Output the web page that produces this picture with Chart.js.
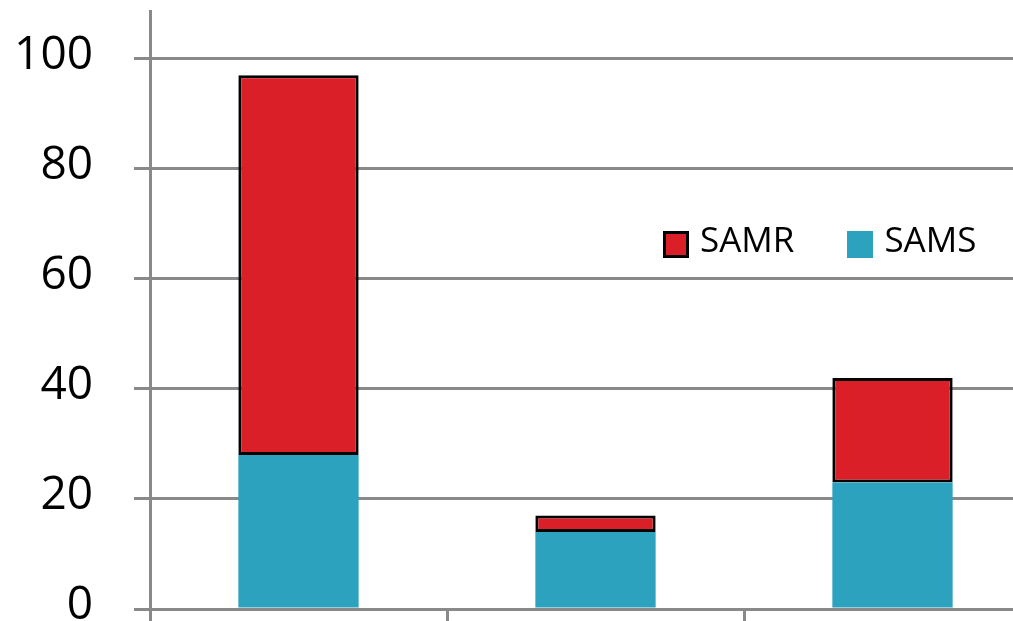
<!DOCTYPE html>
<html>
<head>
<meta charset="utf-8">
<script src="https://cdn.jsdelivr.net/npm/chart.js@4.4.1/dist/chart.umd.min.js"></script>
<style>
  html, body { margin: 0; padding: 0; background: #fff; overflow: hidden; }
  #wrap { position: relative; width: 1013px; height: 621px; overflow: hidden; }
  #barChart { position: absolute; left: 0; top: 0; }
  #legend { position: absolute; left: 663px; top: 221px; display: flex; font-family: "Open Sans", sans-serif; font-size: 35px; line-height: 35px; color: #000; }
  .item { display: flex; align-items: flex-start; margin-right: 53px; }
  .swatch { width: 26px; height: 27px; margin-top: 10px; margin-right: 11px; box-sizing: border-box; }
</style>
</head>
<body>
<div id="wrap">
  <canvas id="barChart" width="1041" height="621"></canvas>
  <div id="legend"></div>
</div>
<script>
const categories = ["Group 1", "Group 2", "Group 3"];
const samsValues = [28, 14, 23];
const samrValues = [69, 3, 19];
const yTicks = [0, 20, 40, 60, 80, 100];

const grey = '#898989';
const red = '#DB1F29';
const teal = '#2CA2BF';

const data = {
    labels: categories,
    datasets: [{
        label: 'SAMS',
        data: samsValues,
        backgroundColor: teal,
        borderWidth: 0
    }, {
        label: 'SAMR',
        data: samrValues,
        backgroundColor: red,
        borderColor: '#000',
        borderWidth: 3,
        borderSkipped: false
    }]
};

//options
const options = {
    responsive: false,
    animation: false,
    devicePixelRatio: 1,
    layout: { padding: { top: 11, left: 0, right: 0, bottom: 0 } },
    datasets: { bar: { barPercentage: 0.405, categoryPercentage: 1 } },
    plugins: {
        legend: { display: false },
        tooltip: { enabled: false }
    },
    scales: {
        x: {
            stacked: true,
            afterFit: s => { s.height = 12; s.paddingLeft = 0; s.paddingRight = 0; },
            ticks: { display: false },
            grid: { drawOnChartArea: false, color: grey, lineWidth: 3, tickLength: 12 },
            border: { color: grey, width: 3 }
        },
        y: {
            stacked: true,
            min: 0,
            max: 108.7,
            afterBuildTicks: s => { s.ticks = yTicks.map(v => ({ value: v })); },
            afterFit: s => { s.width = 150; s.paddingTop = 0; s.paddingBottom = 0; },
            ticks: {
                stepSize: 20,
                padding: 41,
                color: '#000',
                labelOffset: -3,
                font: { family: 'Open Sans', size: 46 }
            },
            grid: { color: grey, lineWidth: 3, tickLength: 16 },
            border: { color: grey, width: 3 }
        }
    }
};

let barChartElement = document.getElementById('barChart').getContext('2d');
let barChart = new Chart(barChartElement, {
    type: "bar",
    data: data,
    options: options
});

// legend, SAMR listed first like the original
const legend = document.getElementById('legend');
[data.datasets[1], data.datasets[0]].forEach(ds => {
    const item = document.createElement('div');
    item.className = 'item';
    const sw = document.createElement('div');
    sw.className = 'swatch';
    sw.style.background = ds.backgroundColor;
    if (ds.borderWidth) sw.style.border = ds.borderWidth + 'px solid ' + ds.borderColor;
    const txt = document.createElement('span');
    txt.textContent = ds.label;
    item.appendChild(sw);
    item.appendChild(txt);
    legend.appendChild(item);
});
</script>
</body>
</html>
